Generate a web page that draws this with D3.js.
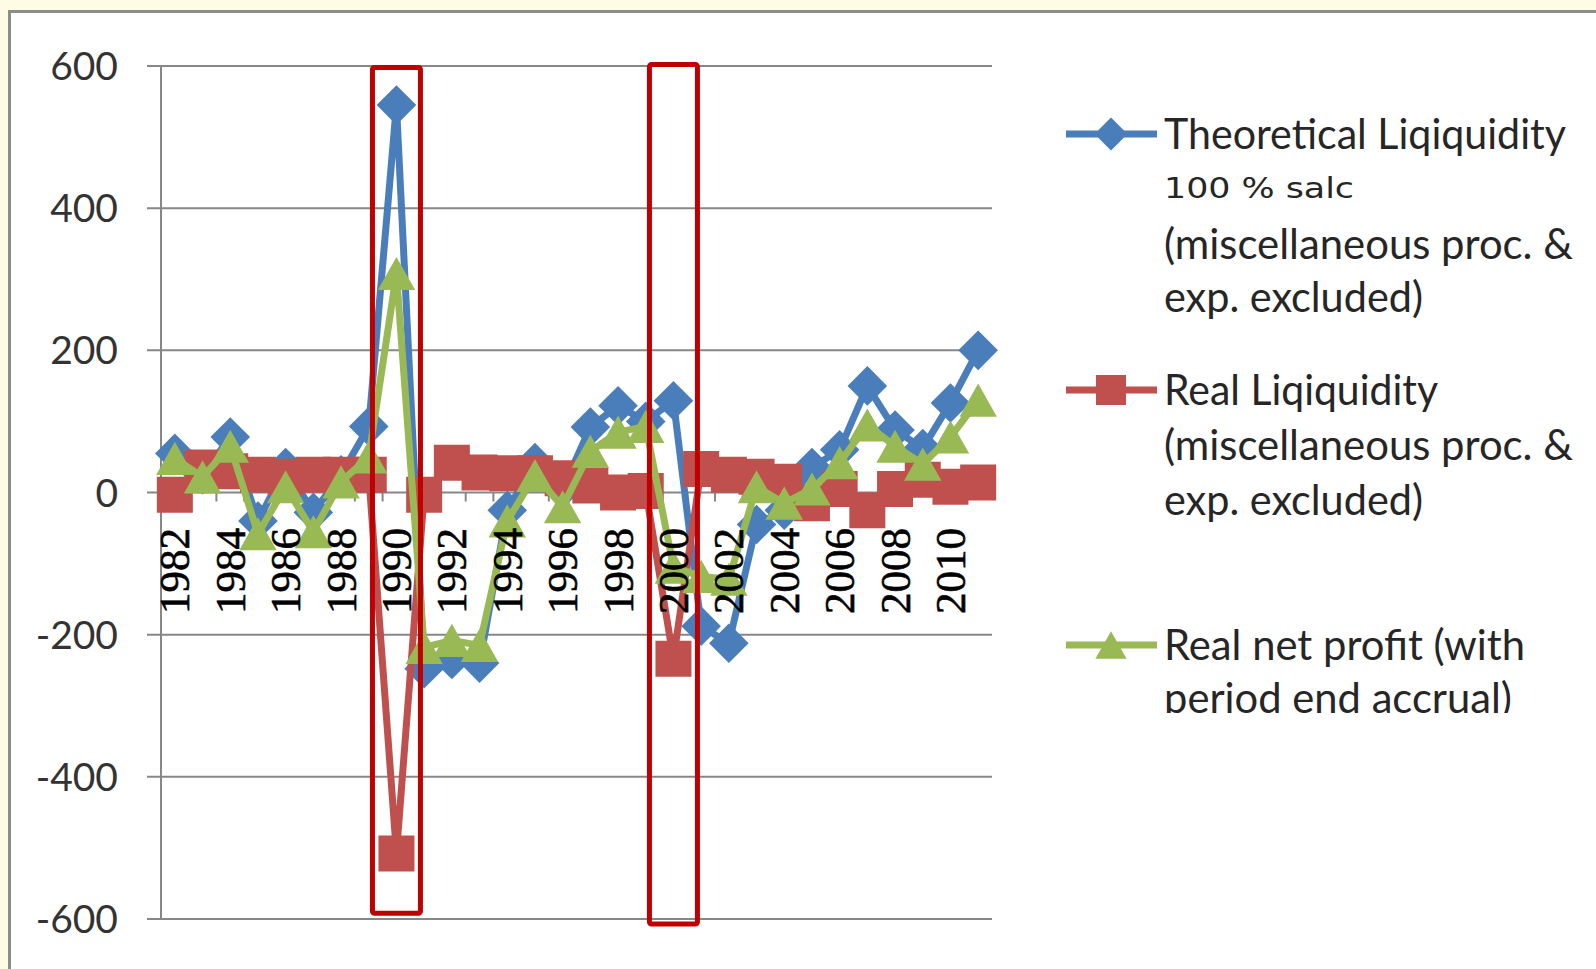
<!DOCTYPE html>
<html>
<head>
<meta charset="utf-8">
<script src="https://cdn.jsdelivr.net/npm/d3@7"></script>
<style>
  html, body { margin: 0; padding: 0; background: #fffce6; }
  svg { display: block; }
</style>
</head>
<body>
<svg id="chart" width="1596" height="969"></svg>
<script>
// ---- data -------------------------------------------------------------
const years = [1982, 1983, 1984, 1985, 1986, 1987, 1988, 1989, 1990, 1991,
               1992, 1993, 1994, 1995, 1996, 1997, 1998, 1999, 2000, 2001,
               2002, 2003, 2004, 2005, 2006, 2007, 2008, 2009, 2010, 2011];

const theoreticalLiquidity = [55, 25, 78, -40, 35, -28, 25, 93, 545, -248,
                              -235, -240, -25, 42, 5, 92, 122, 100, 129, -188,
                              -212, -45, -25, 35, 60, 150, 88, 62, 126, 200];

const realLiquidity = [-3, 35, 30, 25, 22, 25, 25, 25, -508, -3,
                       42, 28, 27, 27, 20, 10, 0, 2, -234, 33,
                       25, 22, 15, -15, 5, -25, 5, 18, 8, 14];

const realNetProfit = [48, 22, 65, -58, 8, -55, 15, 50, 308, -218,
                       -208, -215, -40, 24, -20, 58, 85, 93, -105, -118,
                       -122, 8, -15, 5, 42, 95, 65, 40, 78, 130];

const yTickValues = [-600, -400, -200, 0, 200, 400, 600];
const xTickLabels = ["1982", "1984", "1986", "1988", "1990", "1992", "1994",
                     "1996", "1998", "2000", "2002", "2004", "2006", "2008", "2010"];

// years framed by the red boxes, with the value span each box covers
const highlightYears = [1990, 2000];
const highlightTop = [598, 602];
const highlightBottom = [-592, -607];

const seriesNames = ["Theoretical Liqiquidity", "Real Liqiquidity", "Real net profit"];
const legendLines = [
  ["Theoretical Liqiquidity", "100 % salc", "(miscellaneous proc. &", "exp. excluded)"],
  ["Real Liqiquidity", "(miscellaneous proc. &", "exp. excluded)"],
  ["Real net profit (with", "period end accrual)"]
];

// ---- setup ------------------------------------------------------------
const svg = d3.select("#chart");
const W = 1596, H = 969;

const plot = { left: 161, right: 992, top: 66, bottom: 919 };

const x = d3.scaleBand().domain(years).range([plot.left, plot.right]);
const xc = yr => x(yr) + x.bandwidth() / 2;
const y = d3.scaleLinear().domain([-600, 600]).range([plot.bottom, plot.top]);

const colors = ["#4a7ebb", "#c0504d", "#98b954"];
const values = [theoreticalLiquidity, realLiquidity, realNetProfit];
const shapes = ["diamond", "square", "triangle"];

function markerPath(shape, s) {
  if (shape === "diamond") {
    const h = s * 0.55;
    return `M0,${-h}L${h},0L0,${h}L${-h},0Z`;
  }
  if (shape === "square") {
    const h = s / 2;
    return `M${-h},${-h}H${h}V${h}H${-h}Z`;
  }
  // triangle, centred on its middle
  const hw = s * 0.52, hh = s * 0.46;
  return `M0,${-hh}L${hw},${hh}L${-hw},${hh}Z`;
}

// page background and chart panel
svg.append("rect").attr("width", W).attr("height", H).attr("fill", "#fffce6");
svg.append("rect")
  .attr("x", 9.5).attr("y", 11.5)
  .attr("width", 1620).attr("height", 1020)
  .attr("fill", "#ffffff")
  .attr("stroke", "#8c8c8c").attr("stroke-width", 3);

// ---- gridlines & axes ---------------------------------------------------
const grid = svg.append("g");
grid.selectAll("line.grid")
  .data(yTickValues)
  .join("line")
  .attr("class", "grid")
  .attr("x1", 147).attr("x2", plot.right)
  .attr("y1", d => y(d)).attr("y2", d => y(d))
  .attr("stroke", "#878787").attr("stroke-width", 2);

grid.append("line")
  .attr("x1", plot.left).attr("x2", plot.left)
  .attr("y1", y(600)).attr("y2", y(-600))
  .attr("stroke", "#878787").attr("stroke-width", 2);

// category tick marks on the zero line
grid.selectAll("line.xtick")
  .data(years.slice(1))
  .join("line")
  .attr("class", "xtick")
  .attr("x1", d => x(d)).attr("x2", d => x(d))
  .attr("y1", y(0)).attr("y2", y(0) + 9)
  .attr("stroke", "#878787").attr("stroke-width", 2);

svg.append("g")
  .selectAll("text")
  .data(yTickValues)
  .join("text")
  .attr("x", 118)
  .attr("y", d => y(d))
  .attr("dy", "0.36em")
  .attr("text-anchor", "end")
  .attr("font-family", "Lato, 'Open Sans', sans-serif")
  .attr("font-size", 39)
  .attr("fill", "#333333")
  .text(d => d);

// ---- series -------------------------------------------------------------
const line = d3.line()
  .x((d, i) => xc(years[i]))
  .y(d => y(d));

values.forEach((vals, s) => {
  const g = svg.append("g").attr("class", "series");
  g.append("path")
    .attr("d", line(vals))
    .attr("fill", "none")
    .attr("stroke", colors[s])
    .attr("stroke-width", 7)
    .attr("stroke-linejoin", "round");
  g.selectAll("path.marker")
    .data(vals)
    .join("path")
    .attr("class", "marker")
    .attr("transform", (d, i) => `translate(${xc(years[i])},${y(d)})`)
    .attr("d", markerPath(shapes[s], 36))
    .attr("fill", colors[s]);
});

// category labels sit above the series
svg.append("g")
  .selectAll("text")
  .data(xTickLabels)
  .join("text")
  .attr("transform", d => `translate(${xc(+d)},528) rotate(-90)`)
  .attr("dy", "0.34em")
  .attr("text-anchor", "end")
  .attr("font-family", "'Liberation Serif', 'Times New Roman', serif")
  .attr("font-size", 43)
  .attr("fill", "#000000")
  .attr("stroke", "#000000")
  .attr("stroke-width", 0.6)
  .text(d => d);

// ---- highlight boxes ---------------------------------------------------
svg.append("g")
  .selectAll("rect")
  .data(highlightYears)
  .join("rect")
  .attr("x", d => xc(d) - 24)
  .attr("width", 48)
  .attr("y", (d, i) => y(highlightTop[i]))
  .attr("height", (d, i) => y(highlightBottom[i]) - y(highlightTop[i]))
  .attr("rx", 2)
  .attr("fill", "none")
  .attr("stroke", "#c00000")
  .attr("stroke-width", 5);

// ---- legend -------------------------------------------------------------
svg.append("clipPath").attr("id", "legendClip")
  .append("rect").attr("x", 1000).attr("y", 0).attr("width", 600).attr("height", 713);

const legend = svg.append("g").attr("clip-path", "url(#legendClip)");

// vertical centres of each legend text line, and the width each line spans
const legendCenters = [[134, 188, 244, 297], [390, 445, 500], [645, 698]];
const legendWidths = [[402, 190, 409, 259], [274, 409, 259], [361, 348]];

legendLines.forEach((lines, s) => {
  const cy = legendCenters[s][0];
  const item = legend.append("g").attr("class", "legend-item").attr("data-name", seriesNames[s]);
  item.append("line")
    .attr("x1", 1066).attr("x2", 1157)
    .attr("y1", cy).attr("y2", cy)
    .attr("stroke", colors[s]).attr("stroke-width", 7);
  item.append("path")
    .attr("transform", `translate(1111,${cy})`)
    .attr("d", markerPath(shapes[s], 30))
    .attr("fill", colors[s]);
  lines.forEach((t, k) => {
    const small = t === "100 % salc";
    item.append("text")
      .attr("x", 1164)
      .attr("y", legendCenters[s][k])
      .attr("dy", "0.36em")
      .attr("font-family", small ? "'DejaVu Sans', sans-serif" : "Lato, 'Open Sans', sans-serif")
      .attr("font-size", small ? 29 : 43)
      .attr("fill", "#262626")
      .attr("textLength", legendWidths[s][k])
      .attr("lengthAdjust", "spacingAndGlyphs")
      .text(t);
  });
});
</script>
</body>
</html>
